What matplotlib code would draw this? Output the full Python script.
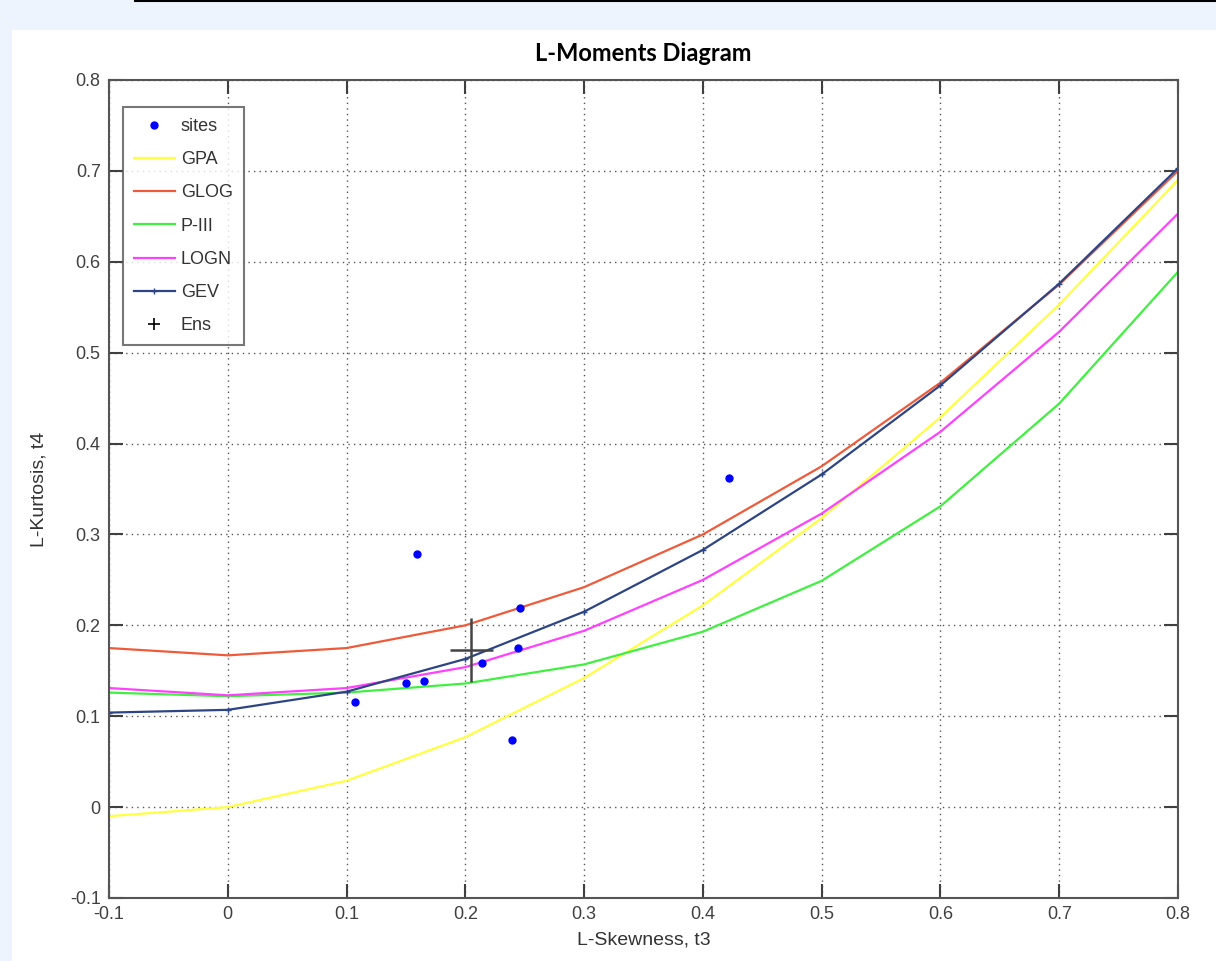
import matplotlib
matplotlib.use("Agg")
import matplotlib.pyplot as plt
from matplotlib.patches import Rectangle
from matplotlib.lines import Line2D

plt.rcParams['font.family'] = ['Liberation Sans Narrow', 'Liberation Sans', 'DejaVu Sans']

# ---- data ----
t3_grid = [-0.1, 0.0, 0.1, 0.2, 0.3, 0.4, 0.5, 0.6, 0.7, 0.8]
gpa  = [-0.010, 0.000, 0.029, 0.077, 0.142, 0.222, 0.318, 0.429, 0.553, 0.690]
glog = [0.175, 0.167, 0.175, 0.200, 0.242, 0.300, 0.375, 0.467, 0.575, 0.700]
p3   = [0.126, 0.122, 0.126, 0.136, 0.157, 0.193, 0.249, 0.331, 0.444, 0.589]
logn = [0.131, 0.123, 0.131, 0.154, 0.194, 0.250, 0.323, 0.413, 0.523, 0.653]
gev  = [0.104, 0.107, 0.127, 0.163, 0.215, 0.283, 0.366, 0.464, 0.576, 0.703]

sites_t3 = [0.107, 0.150, 0.165, 0.159, 0.214, 0.244, 0.246, 0.239, 0.422]
sites_t4 = [0.116, 0.137, 0.139, 0.279, 0.159, 0.175, 0.219, 0.074, 0.362]

ens_t3, ens_t4 = 0.205, 0.173
ens_t3_err, ens_t4_err = 0.018, 0.035

xticks = [-0.1, 0, 0.1, 0.2, 0.3, 0.4, 0.5, 0.6, 0.7, 0.8]
xticklabels = ['-0.1', '0', '0.1', '0.2', '0.3', '0.4', '0.5', '0.6', '0.7', '0.8']
yticks = [-0.1, 0, 0.1, 0.2, 0.3, 0.4, 0.5, 0.6, 0.7, 0.8]
yticklabels = ['-0.1', '0', '0.1', '0.2', '0.3', '0.4', '0.5', '0.6', '0.7', '0.8']

W, H = 1216, 961
fig = plt.figure(figsize=(W / 100, H / 100), dpi=100)
fig.patch.set_facecolor('#eef4fd')
fig.add_artist(Rectangle((12 / W, 0), 1 - 12 / W, (H - 30) / H, transform=fig.transFigure,
                         facecolor='white', edgecolor='none', zorder=0))
fig.add_artist(Line2D([135 / W, 1], [1 - 1 / H, 1 - 1 / H], transform=fig.transFigure,
                      color='black', lw=1.5))

ax = fig.add_axes([109 / W, (H - 898) / H, (1178 - 109) / W, (898 - 80) / H])
ax.set_facecolor('white')

ax.plot(sites_t3, sites_t4, 'o', color='#0000ff', ms=5, label='sites', zorder=5)
ax.plot(t3_grid, gpa, color='#ffff40', lw=1.6, label='GPA')
ax.plot(t3_grid, glog, color='#ef5a3a', lw=1.6, label='GLOG')
ax.plot(t3_grid, p3, color='#40f040', lw=1.6, label='P-III')
ax.plot(t3_grid, logn, color='#ff40ff', lw=1.6, label='LOGN')
ax.plot(t3_grid, gev, color='#2e4585', lw=1.6, marker='+', ms=4, label='GEV')
ax.errorbar([ens_t3], [ens_t4], xerr=[ens_t3_err], yerr=[ens_t4_err], fmt='none',
            ecolor='#444444', elinewidth=1.8, capsize=0, zorder=6)
ax.plot([], [], '+', color='black', ms=9, mew=1.2, label='Ens')

ax.set_xlim(-0.1, 0.8)
ax.set_ylim(-0.1, 0.8)
ax.set_xticks(xticks)
ax.set_xticklabels(xticklabels)
ax.set_yticks(yticks)
ax.set_yticklabels(yticklabels)
ax.grid(True, color='#555555', linestyle=(0, (1, 3)), lw=1.0)
ax.tick_params(direction='in', length=10, width=1.5, colors='#404040', labelcolor='#404040',
               labelsize=13, top=True, right=True, pad=6)
for s in ax.spines.values():
    s.set_color('#555555')
    s.set_linewidth(1.5)

ax.set_title('L-Moments Diagram', fontsize=17, fontweight='bold',
             family=['Lato', 'DejaVu Sans'], pad=14)
ax.set_xlabel('L-Skewness, t3', fontsize=14, color='#333333', labelpad=6)
ax.set_ylabel('L-Kurtosis, t4', fontsize=14, color='#333333', labelpad=16)

leg = ax.legend(loc='upper left', bbox_to_anchor=(0.013, 0.967), borderaxespad=0,
                fontsize=13, frameon=True, fancybox=False, edgecolor='#555555',
                handlelength=2.3, borderpad=0.6, labelspacing=0.9, handletextpad=0.3)
leg.get_frame().set_linewidth(1.5)
for t in leg.get_texts():
    t.set_color('#333333')

fig.savefig('out.png', dpi=100, facecolor=fig.get_facecolor())
